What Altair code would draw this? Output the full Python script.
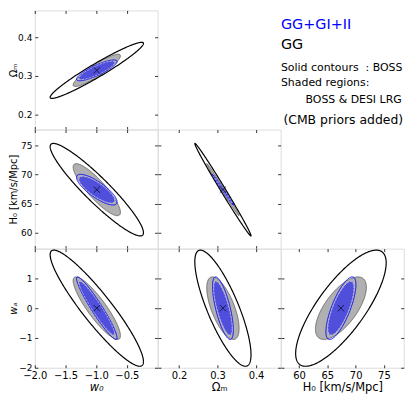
import numpy as np
import pandas as pd
import altair as alt

# ---------------- data ----------------
PARAMS = ["w0", "Om", "H0", "wa"]
CENTER = [-0.99, 0.314, 67.4, 0.0]

# half-widths of each contour along (w0, Om, H0, wa)
EXT_GG_BOSS = [0.76, 0.073, 8.0, 1.95]      # black solid contour
EXT_ALL_BOSS = [0.33, 0.027, 2.65, 1.05]    # blue solid contour
EXT_GG_BD = [0.385, 0.042, 4.5, 1.05]       # grey shaded
EXT_ALL_BD = [0.29, 0.024, 2.3, 0.9]        # blue shaded

# correlations for pairs
PAIRS = [("w0", "Om"), ("w0", "H0"), ("w0", "wa"), ("Om", "H0"), ("Om", "wa"), ("H0", "wa")]
CORR_GG_BOSS = [0.96, -0.93, -0.92, -0.995, -0.80, 0.78]
CORR_ALL_BOSS = [0.85, -0.80, -0.95, -0.995, -0.70, 0.75]
CORR_GG_BD = [0.90, -0.87, -0.88, -0.995, -0.65, 0.67]
CORR_ALL_BD = [0.85, -0.80, -0.95, -0.995, -0.75, 0.75]

X_DOMAIN = {"w0": [-2.0, 0.0], "Om": [0.145, 0.464], "H0": [56.8, 78.5]}
Y_DOMAIN = {"Om": [0.16, 0.47], "H0": [57.2, 77.8], "wa": [-2.0, 2.0]}
X_TICKS = {"w0": [-2.0, -1.5, -1.0, -0.5], "Om": [0.2, 0.3, 0.4], "H0": [60, 65, 70, 75]}
Y_TICKS = {"Om": [0.2, 0.3, 0.4], "H0": [60, 65, 70, 75], "wa": [-2, -1, 0, 1]}
FMT = {"w0": ".1f", "Om": ".1f", "H0": "d", "wa": "d"}
TITLES = {"w0": "w₀", "Om": "Ωₘ", "H0": "H₀ [km/s/Mpc]", "wa": "wₐ"}
ITALIC = {"w0": "italic", "Om": "normal", "H0": "normal", "wa": "italic"}

LEGEND_TEXT = ["GG+GI+II", "GG", "Solid contours\u00a0 : BOSS", "Shaded regions:",
               "BOSS & DESI LRG", "(CMB priors added)"]
LEGEND_COLOR = ["#0000ff", "#000000", "#000000", "#000000", "#000000", "#000000"]
LEGEND_SIZE = [14.5, 14.5, 11, 11, 11, 12.5]
LEGEND_LINE = [1.0, 2.3, 3.9, 4.9, 6.03, 7.37]
LEGEND_X = [0, 0, 0, 0, 0.2, 0.02]

W, H = 123.7, 120
FONT = "DejaVu Sans"


def outline(p, q, ext, corr):
    i, j = PARAMS.index(p), PARAMS.index(q)
    rho = corr[PAIRS.index((p, q))]
    t = np.linspace(0, 2 * np.pi, 361)
    u = np.cos(t)
    v = rho * np.cos(t) + np.sqrt(1 - rho ** 2) * np.sin(t)
    return pd.DataFrame({"x": CENTER[i] + ext[i] * u, "y": CENTER[j] + ext[j] * v,
                         "k": np.arange(t.size)})


def band(p, q, ext, corr):
    i, j = PARAMS.index(p), PARAMS.index(q)
    rho = corr[PAIRS.index((p, q))]
    t = np.linspace(np.pi, 0, 241)
    u = np.cos(t)
    h = np.sqrt(np.clip((1 - rho ** 2) * (1 - u ** 2), 0, None))
    return pd.DataFrame({"x": CENTER[i] + ext[i] * u,
                         "y": CENTER[j] + ext[j] * (rho * u + h),
                         "y2": CENTER[j] + ext[j] * (rho * u - h)})


def xs(p):
    return alt.Scale(domain=X_DOMAIN[p], nice=False, zero=False)


def ys(q):
    return alt.Scale(domain=Y_DOMAIN[q], nice=False, zero=False)


def x_label_axis(p):
    return alt.Axis(values=X_TICKS[p], format=FMT[p], title=TITLES[p], orient="bottom",
                    ticks=False, domain=False, grid=False, labelFlush=False,
                    labelOverlap=False, labelPadding=3, labelFontSize=10,
                    labelColor="black", titleColor="black", titleFontSize=11.5,
                    titleFontWeight="normal", titleFontStyle=ITALIC[p], titlePadding=1,
                    labelFont=FONT, titleFont=FONT)


def y_label_axis(q):
    return alt.Axis(values=Y_TICKS[q], format=FMT[q], title=TITLES[q], orient="left",
                    ticks=False, domain=False, grid=False, labelFlush=False,
                    labelOverlap=False, labelPadding=3, labelFontSize=9,
                    labelColor="black", titleColor="black", titleFontSize=10,
                    titleFontWeight="normal", titleFontStyle=ITALIC[q], titlePadding=0,
                    minExtent=16, maxExtent=16, labelFont=FONT, titleFont=FONT)


def tick_axis(vals, orient, off):
    return alt.Axis(values=vals, orient=orient, offset=off, labels=False, domain=False,
                    grid=False, ticks=True, tickSize=3, tickColor="black", tickWidth=0.8,
                    title=None, minExtent=0)


def panel(p, q, show_x, show_y):
    xa = x_label_axis(p) if show_x else None
    ya = y_label_axis(q) if show_y else None

    def enc(ax=None, ay=None):
        return dict(x=alt.X("x:Q", scale=xs(p), axis=ax), y=alt.Y("y:Q", scale=ys(q), axis=ay))

    grey_fill = alt.Chart(band(p, q, EXT_GG_BD, CORR_GG_BD)).mark_area(
        color="#b0b0b0", clip=True).encode(**enc(xa, ya), y2="y2:Q")
    grey_edge = alt.Chart(outline(p, q, EXT_GG_BD, CORR_GG_BD)).mark_line(
        color="#555555", strokeWidth=0.8, clip=True).encode(**enc(), order="k:Q")
    black = alt.Chart(outline(p, q, EXT_GG_BOSS, CORR_GG_BOSS)).mark_line(
        color="black", strokeWidth=1.2, clip=True).encode(**enc(), order="k:Q")
    blue_line = alt.Chart(outline(p, q, EXT_ALL_BOSS, CORR_ALL_BOSS)).mark_line(
        color="#0000ff", strokeWidth=1.0, clip=True).encode(**enc(), order="k:Q")
    blue_fill = alt.Chart(band(p, q, EXT_ALL_BD, CORR_ALL_BD)).mark_area(
        color="#4646e0", opacity=0.92, clip=True).encode(**enc(), y2="y2:Q")
    blue_edge = alt.Chart(outline(p, q, EXT_ALL_BD, CORR_ALL_BD)).mark_line(
        color="#c8c8ff", strokeWidth=0.8, strokeDash=[2, 1.5], clip=True).encode(**enc(), order="k:Q")
    cen = pd.DataFrame({"x": [CENTER[PARAMS.index(p)]], "y": [CENTER[PARAMS.index(q)]]})
    cross = alt.Chart(cen).mark_point(shape="M-1,-1L1,1M-1,1L1,-1", size=40, filled=False,
                                      color="black", strokeWidth=1).encode(**enc())
    t1 = alt.Chart(cen).mark_point(opacity=0).encode(
        x=alt.X("x:Q", scale=xs(p), axis=tick_axis(X_TICKS[p], "top", -H)),
        y=alt.Y("y:Q", scale=ys(q), axis=tick_axis(Y_TICKS[q], "right", -W)))
    t2 = alt.Chart(cen).mark_point(opacity=0).encode(
        x=alt.X("x:Q", scale=xs(p), axis=tick_axis(X_TICKS[p], "bottom", -H)),
        y=alt.Y("y:Q", scale=ys(q), axis=tick_axis(Y_TICKS[q], "left", -W)))
    return alt.layer(grey_fill, grey_edge, black, blue_line, blue_fill, blue_edge, cross, t1, t2
                     ).resolve_axis(x="independent", y="independent").properties(width=W, height=H)


def blank():
    return alt.Chart(pd.DataFrame({"x": [0.5], "y": [0.5]})).mark_point(opacity=0).encode(
        x=alt.X("x:Q", axis=None, scale=alt.Scale(domain=[0, 1])),
        y=alt.Y("y:Q", axis=None, scale=alt.Scale(domain=[0, 1]))
    ).properties(width=W, height=H, view=alt.ViewBackground(stroke=None))


legend_df = pd.DataFrame({"t": LEGEND_TEXT, "c": LEGEND_COLOR, "s": LEGEND_SIZE,
                          "row": LEGEND_LINE, "xx": LEGEND_X})
legend = alt.Chart(legend_df).mark_text(align="left", baseline="middle", font=FONT, dx=0).encode(
    x=alt.X("xx:Q", scale=alt.Scale(domain=[0, 1]), axis=None),
    y=alt.Y("row:Q", scale=alt.Scale(domain=[0, 8], reverse=True), axis=None),
    text="t:N",
    color=alt.Color("c:N", scale=None),
    size=alt.Size("s:Q", scale=None),
).properties(width=W, height=H, view=alt.ViewBackground(stroke=None))

cells = [
    panel("w0", "Om", False, True), blank(), legend,
    panel("w0", "H0", False, True), panel("Om", "H0", False, False), blank(),
    panel("w0", "wa", True, True), panel("Om", "wa", True, False), panel("H0", "wa", True, False),
]

chart = alt.concat(*cells, columns=3, spacing=0, bounds="flush").configure_view(
    stroke="#222222", strokeWidth=1
).configure(font=FONT).properties(padding={"left": 0, "top": 0, "right": 2, "bottom": 0})

chart.save("out.html", embed_options={"renderer": "svg", "actions": False})
